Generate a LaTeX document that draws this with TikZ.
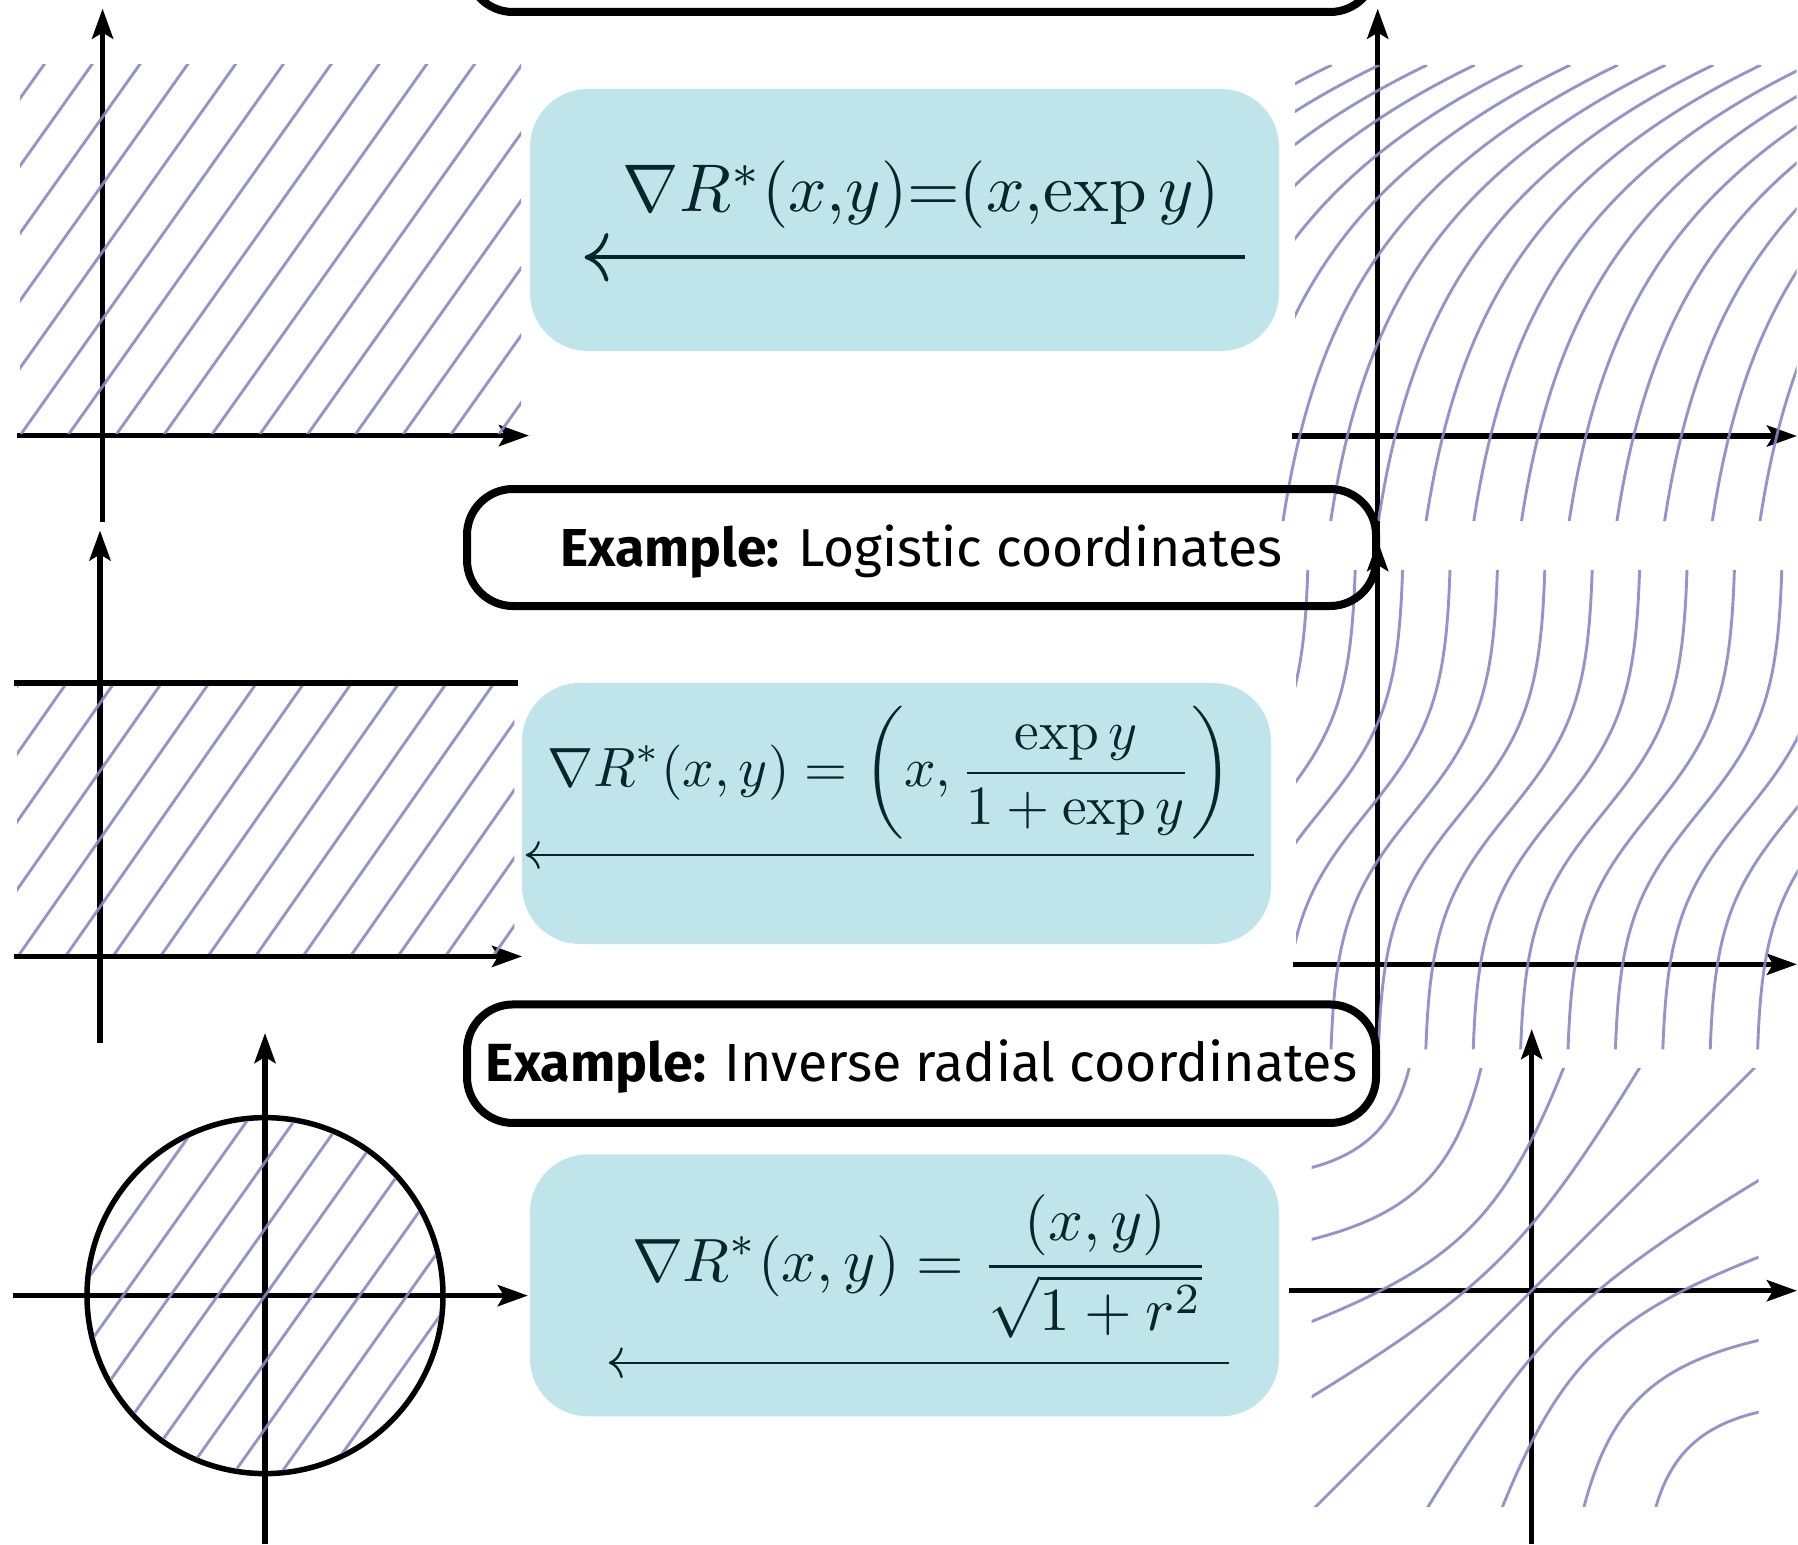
\documentclass[tikz,border=0pt]{standalone}
\usepackage{amsmath}
\usepackage{graphicx}
\usepackage{fontspec}
\newfontfamily\exfont{Fira Sans}
\usetikzlibrary{arrows.meta}
\definecolor{hatchc}{RGB}{134,138,197}
\definecolor{boxfill}{RGB}{191,229,234}
\definecolor{mathc}{RGB}{6,38,44}
\tikzset{
  axisline/.style={line width=5.5pt},
  axisarrow/.style={axisline, -{Stealth[length=30pt,width=21pt,inset=6pt]}},
  hatchline/.style={line width=2.9pt, draw=hatchc, draw opacity=0.9},
  exbox/.style={draw=black, line width=8pt, rounded corners=46pt, minimum width=909pt, minimum height=117pt, inner sep=0pt, align=center},
  mathbox/.style={fill=boxfill, rounded corners=58pt, minimum width=749pt, minimum height=262pt, inner sep=0pt},
  formula/.style={anchor=base west, inner sep=0pt, text=mathc},
  maparrow/.style={draw=mathc},
}
\begin{document}
\begin{tikzpicture}[x=1pt,y=-1pt]
\useasboundingbox (0,0) rectangle (1798,1544);
\clip (0,0) rectangle (1798,1544);

% blue formula boxes
\node[mathbox] (m1) at (904.5,220) {};
\node[mathbox, minimum height=261pt] (m2) at (896.5,813.5) {};
\node[mathbox] (m3) at (904.5,1285.3) {};

% ---------- top-left panel ----------
\draw[axisarrow] (17.2,435.6) coordinate (tlxl) -- (529,435.6) coordinate (tlxr);
\draw[axisarrow] (102.6,521.7) coordinate (tlyb) -- (102.6,8.6) coordinate (tlyt);
\begin{scope}
  \clip (20,64.7) rectangle (521,433);
  \foreach \j in {-6,...,10} {\draw[hatchline] ({19.9+47.8*\j},435.6) -- ++(300,-423);}
\end{scope}

% ---------- middle-left panel ----------
\draw[axisline] (13.6,683.2) coordinate (mltl) -- (517.9,683.2) coordinate (mltr);
\draw[axisarrow] (13.6,956.4) coordinate (mlxl) -- (522.1,956.4) coordinate (mlxr);
\draw[axisarrow] (100,1042.9) coordinate (mlyb) -- (100,530.4) coordinate (mlyt);
\begin{scope}
  \clip (17.1,686) rectangle (514.3,953.6);
  \foreach \j in {-4,...,10} {\draw[hatchline] ({17.9+47.5*\j},956.4) -- ++(200,-286);}
\end{scope}

% ---------- bottom-left panel ----------
\draw[axisarrow] (12.5,1295.6) coordinate (blxl) -- (527.9,1295.6) coordinate (blxr);
\draw[axisarrow] (265,1544) coordinate (blyb) -- (265,1033) coordinate (blyt);
\draw[line width=5.5pt] (265,1295.6) coordinate (blc) circle [radius=178pt];
\begin{scope}
  \clip (265,1295.6) circle [radius=175.5pt];
  \foreach \k in {-4,...,4} {\draw[hatchline] ({265+47.3*\k-150},{1295.6+211.5}) -- ++(300,-423);}
\end{scope}

% ---------- top-right panel ----------
\begin{scope}[shift={(1377.7,436)}, yscale=-1]
  \draw[axisarrow] (-85.7,0) coordinate (trxl) -- (419.3,0) coordinate (trxr);
  \draw[axisarrow] (0,-105) coordinate (tryb) -- (0,427.4) coordinate (tryt);
  \begin{scope}
    \clip (-96,-85) -- (-96,40) -- (-82.7,40) -- (-82.7,371) -- (419,371) -- (419,-85) -- cycle;
    \foreach \k in {-1,...,15} {
      \draw[hatchline] plot[domain=-85:371, samples=60, smooth] ({43.4*exp(\x/175) - 359.9 + 47.7*\k}, \x);
    }
  \end{scope}
\end{scope}

% ---------- middle-right panel ----------
\begin{scope}[shift={(1377.7,964.3)}, yscale=-1]
  \draw[axisarrow] (-85,0) coordinate (mrxl) -- (419.3,0) coordinate (mrxr);
  \draw[axisarrow] (0,-85) coordinate (mryb) -- (0,423.3) coordinate (mryt);
  \begin{scope}
    \clip (-81.7,-85) rectangle (420,394.3);
    \foreach \k in {-4,...,9} {
      \draw[hatchline] plot[domain=-85:394.3, samples=90, smooth] ({-48.6 + 47.4*\k + 170/(1+exp(-(\x-152)/53))}, \x);
    }
  \end{scope}
\end{scope}

% ---------- bottom-right panel ----------
\begin{scope}[shift={(1531.7,1290.7)}, yscale=-1]
  \draw[axisarrow] (-242.4,0) coordinate (brxl) -- (265.3,0) coordinate (brxr);
  \draw[axisarrow] (0,-253.3) coordinate (bryb) -- (0,261.7) coordinate (bryt);
  \begin{scope}
    \clip (-220,-216) rectangle (227,222);
    \foreach \a in {-1.432,-0.981,-0.568,-0.29,0,0.29,0.568,0.981,1.432} {
      \draw[hatchline] plot[domain=-1.8:1.8, samples=90, smooth]
        ({109.6*((exp(\x)-exp(-\x))/2+(\a)*(exp(\x)+exp(-\x))/2)},
         {109.6*((exp(\x)-exp(-\x))/2-(\a)*(exp(\x)+exp(-\x))/2)});
    }
  \end{scope}
\end{scope}

% ---------- example boxes ----------
\node[exbox] (ex0) at (921.5,-46.5) {};
\node[exbox, text height=50pt, text depth=11.6pt] (ex1) at (921.5,547.5)
  {\resizebox{721pt}{!}{\exfont\textbf{Example:} Logistic coordinates}};
\node[exbox, minimum height=118.5pt, text height=50pt, text depth=14pt] (ex2) at (921.5,1063.7)
  {\resizebox{871pt}{!}{\exfont\textbf{Example:} Inverse radial coordinates}};

% ---------- formulas ----------
\node[formula] (f1) at (622.7,211.7) {\resizebox{597pt}{!}{$\nabla R^*(x{,}y){=}(x{,}\mathrm{exp}\,y)$}};
\node[formula] (f2) at (547,786.7) {\resizebox{685pt}{!}{$\displaystyle \nabla R^*(x,y) = \left(x,\frac{\exp y}{1+\exp y}\right)$}};
\node[formula] (f3) at (631.8,1281.7) {\resizebox{577pt}{!}{$\displaystyle \nabla R^*(x,y)=\frac{(x,y)}{\sqrt{1+r^2}}$}};

% ---------- arrows in the formula boxes ----------
\coordinate (a1s) at (1245,257.3);
\coordinate (a1e) at (584.5,257.3);
\draw[maparrow, line width=3.8pt, -{Computer Modern Rightarrow[length=24pt,width=49pt]}] (a1s) -- (a1e);
\coordinate (a2s) at (1254,855);
\coordinate (a2e) at (525.8,855);
\draw[maparrow, line width=2.2pt, -{Computer Modern Rightarrow[length=14pt,width=28pt]}] (a2s) -- (a2e);
\coordinate (a3s) at (1228.8,1362.7);
\coordinate (a3e) at (608.8,1362.7);
\draw[maparrow, line width=2.4pt, -{Computer Modern Rightarrow[length=14pt,width=31pt]}] (a3s) -- (a3e);
\end{tikzpicture}
\end{document}
